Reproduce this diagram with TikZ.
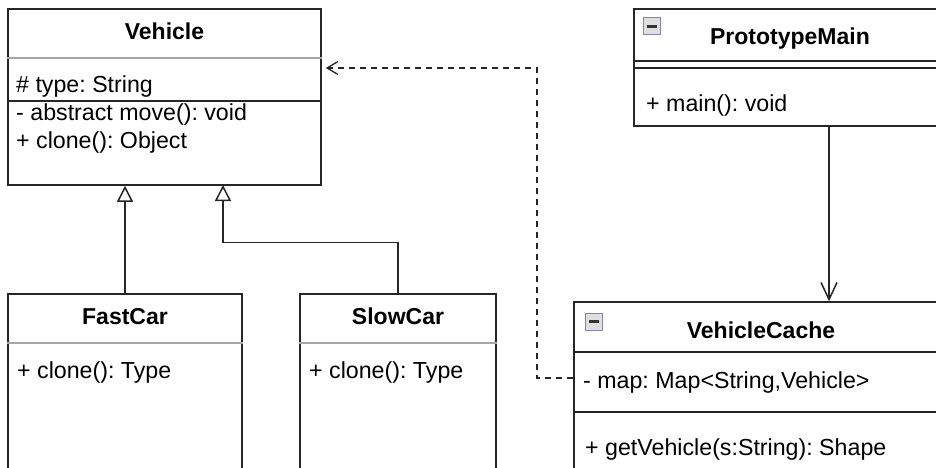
\documentclass[tikz,border=0pt]{standalone}
\usepackage{fontspec}
\setmainfont{Liberation Sans}
\usetikzlibrary{arrows.meta}
\frenchspacing
\begin{document}
\begin{tikzpicture}[x=1pt,y=-1pt,
  box/.style={draw=black!85, line width=1.5pt, inner sep=0pt, fill=white},
  sepgray/.style={draw=black!35, line width=1.3pt},
  sepblack/.style={draw=black!85, line width=1.5pt},
  title/.style={font=\fontsize{23}{27}\selectfont\bfseries, anchor=base, inner sep=0pt},
  member/.style={font=\fontsize{23.2}{27}\selectfont, anchor=base west, inner sep=0pt},
  inh/.style={draw=black!85, line width=1.5pt, -{Triangle[open, length=16pt, width=16pt]}},
  assoc/.style={draw=black!85, line width=1.5pt, -{Straight Barb[length=17pt, width=16pt]}},
  dep/.style={draw=black!85, line width=1.3pt, dash pattern=on 6pt off 5pt, -{Straight Barb[length=11pt, width=13pt]}, shorten >=4pt},
  icon/.style={draw=blue!20!gray!80, fill=gray!25, line width=1pt, minimum size=17pt, inner sep=0pt},
  iconbar/.style={draw=black!80, line width=3pt}
]
\useasboundingbox (0,0) rectangle (936,468);
\clip (0,0) rectangle (936,468);
\fill[white] (0,0) rectangle (936,468);

% Vehicle
\node[box, minimum width=313pt, minimum height=176pt] (vehicle) at (164.5,97) {};
\draw[sepgray] (vehicle.west |- 0,58) -- (vehicle.east |- 0,58);
\draw[sepblack] (vehicle.west |- 0,101) -- (vehicle.east |- 0,101);
\node[title] (vt) at (164.5,39.5) {Vehicle};
\node[member] (v1) at (16,93) {\# type: String};
\node[member] (v2) at (16,121) {- abstract move(): void};
\node[member] (v3) at (16,148) {+ clone(): Object};

% FastCar
\node[box, minimum width=234pt, minimum height=230pt] (fast) at (125,409) {};
\draw[sepgray] (fast.west |- 0,343) -- (fast.east |- 0,343);
\node[title] (ft) at (125,324) {FastCar};
\node[member] (f1) at (17,378) {+ clone(): Type};

% SlowCar
\node[box, minimum width=196pt, minimum height=230pt] (slow) at (398,409) {};
\draw[sepgray] (slow.west |- 0,343) -- (slow.east |- 0,343);
\node[title] (st) at (398,324) {SlowCar};
\node[member] (s1) at (309,378) {+ clone(): Type};

% PrototypeMain
\node[box, minimum width=312pt, minimum height=117pt] (proto) at (790,67.5) {};
\draw[sepblack] (proto.west |- 0,61) -- (proto.east |- 0,61);
\draw[sepblack] (proto.west |- 0,68) -- (proto.east |- 0,68);
\node[title] (pt) at (790,45) {PrototypeMain};
\node[member] (p1) at (646,112) {+ main(): void};
\node[icon] (picon) at (651.5,26.5) {};
\draw[iconbar] ([xshift=4pt]picon.west) -- ([xshift=-4pt]picon.east);

% VehicleCache
\node[box, minimum width=374pt, minimum height=218pt] (cache) at (761,411) {};
\draw[sepblack] (cache.west |- 0,352) -- (cache.east |- 0,352);
\draw[sepblack] (cache.west |- 0,412) -- (cache.east |- 0,412);
\node[title] (ct) at (761,338) {VehicleCache};
\node[member] (c1) at (583,388) {- map: Map<String,Vehicle>};
\node[member] (c2) at (585,455) {+ getVehicle(s:String): Shape};
\node[icon] (cicon) at (594,321.5) {};
\draw[iconbar] ([xshift=4pt]cicon.west) -- ([xshift=-4pt]cicon.east);

% connectors
\draw[inh] (fast.north) -- (fast.north |- vehicle.south);
\coordinate (vj) at (223,185);
\draw[inh] (slow.north) -- ++(0,-51) -| (vj);
\coordinate (dk) at (537,68);
\draw[dep] (cache.west |- 0,378) -| (dk) -- (vehicle.east |- dk);
\coordinate (pa) at (829,0);
\draw[assoc] (proto.south -| pa) -- (cache.north -| pa);
\end{tikzpicture}
\end{document}
